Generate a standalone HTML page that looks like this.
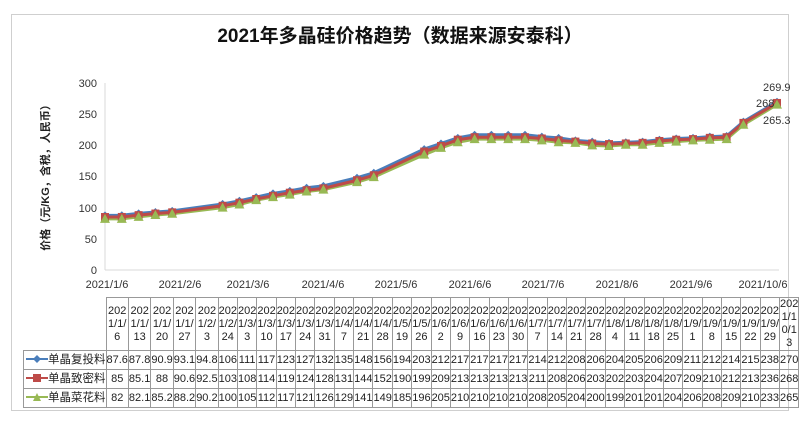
<!DOCTYPE html>
<html><head><meta charset="utf-8">
<style>
body{margin:0;width:800px;height:421px;background:#fff;position:relative;overflow:hidden;font-family:"Liberation Sans","Noto Sans CJK SC",sans-serif;}
.frame{position:absolute;left:11px;top:14px;width:778px;height:397px;border:1px solid #cfcfcf;box-sizing:border-box;}
.title{position:absolute;left:0;width:800px;top:21px;text-align:center;font-size:19px;font-weight:bold;color:#111;}
table{position:absolute;left:23px;top:297px;border-collapse:collapse;table-layout:fixed;font-size:11px;color:#222;}
td{border:1px solid #999;text-align:center;padding:0;line-height:13px;white-space:nowrap;overflow:hidden;}
tr.h td{height:49px;}
tr.d td{height:18px;}
td.leg{text-align:left;padding-left:2px;font-size:11.5px;}
</style></head><body>
<div class="frame"></div>
<div class="title">2021年多晶硅价格趋势（数据来源安泰科）</div>
<svg width="800" height="421" style="position:absolute;left:0;top:0">
<g font-size="11" fill="#333" text-anchor="end">
<text x="97" y="87">300</text><text x="97" y="118">250</text><text x="97" y="149">200</text><text x="97" y="180">150</text>
<text x="97" y="212">100</text><text x="97" y="243">50</text><text x="97" y="274">0</text>
</g>
<line x1="105" y1="83" x2="105" y2="270" stroke="#d9d9d9"/>
<line x1="105" y1="270" x2="779" y2="270" stroke="#d9d9d9"/>
<text transform="translate(49,175) rotate(-90)" text-anchor="middle" font-size="11" font-weight="bold" fill="#222">价格（元/KG，含税，人民币）</text>
<g font-size="11" fill="#333" text-anchor="middle">
<text x="107" y="288">2021/1/6</text><text x="180" y="288">2021/2/6</text><text x="248" y="288">2021/3/6</text>
<text x="323" y="288">2021/4/6</text><text x="396" y="288">2021/5/6</text><text x="470" y="288">2021/6/6</text>
<text x="543" y="288">2021/7/6</text><text x="617" y="288">2021/8/6</text><text x="691" y="288">2021/9/6</text>
<text x="763" y="288">2021/10/6</text>
</g>
<g id="plot"></g>
<g font-size="11" fill="#333">
<text x="763" y="91">269.9</text><text x="756" y="107">268</text><text x="763" y="124">265.3</text>
</g>
</svg>
<table>
<colgroup><col style="width:82px">
<col span="37" style="width:18.2px"></colgroup>
<tr class="h"><td style="border:none;border-bottom:1px solid #999"></td>
<td>202<br>1/1/<br>6</td><td>202<br>1/1/<br>13</td><td>202<br>1/1/<br>20</td><td>202<br>1/1/<br>27</td><td>202<br>1/2/<br>3</td><td>202<br>1/2/<br>24</td><td>202<br>1/3/<br>3</td><td>202<br>1/3/<br>10</td><td>202<br>1/3/<br>17</td><td>202<br>1/3/<br>24</td><td>202<br>1/3/<br>31</td><td>202<br>1/4/<br>7</td><td>202<br>1/4/<br>21</td><td>202<br>1/4/<br>28</td><td>202<br>1/5/<br>19</td><td>202<br>1/5/<br>26</td><td>202<br>1/6/<br>2</td><td>202<br>1/6/<br>9</td><td>202<br>1/6/<br>16</td><td>202<br>1/6/<br>23</td><td>202<br>1/6/<br>30</td><td>202<br>1/7/<br>7</td><td>202<br>1/7/<br>14</td><td>202<br>1/7/<br>21</td><td>202<br>1/7/<br>28</td><td>202<br>1/8/<br>4</td><td>202<br>1/8/<br>11</td><td>202<br>1/8/<br>18</td><td>202<br>1/8/<br>25</td><td>202<br>1/9/<br>1</td><td>202<br>1/9/<br>8</td><td>202<br>1/9/<br>15</td><td>202<br>1/9/<br>22</td><td>202<br>1/9/<br>29</td><td>202<br>1/1<br>0/1<br>3</td></tr>
<tr class="d"><td class="leg"><svg width="22" height="8" style="vertical-align:middle"><line x1="0" y1="4" x2="22" y2="4" stroke="#4a7ebb" stroke-width="2"/><path d="M11 0L15 4L11 8L7 4Z" fill="#4a7ebb"/></svg>单晶复投料</td>
<td>87.6</td><td>87.8</td><td>90.9</td><td>93.1</td><td>94.8</td><td>106</td><td>111</td><td>117</td><td>123</td><td>127</td><td>132</td><td>135</td><td>148</td><td>156</td><td>194</td><td>203</td><td>212</td><td>217</td><td>217</td><td>217</td><td>217</td><td>214</td><td>212</td><td>208</td><td>206</td><td>204</td><td>205</td><td>206</td><td>209</td><td>211</td><td>212</td><td>214</td><td>215</td><td>238</td><td>270</td></tr>
<tr class="d"><td class="leg"><svg width="22" height="8" style="vertical-align:middle"><line x1="0" y1="4" x2="22" y2="4" stroke="#be4b48" stroke-width="2"/><rect x="7" y="0" width="8" height="8" fill="#be4b48"/></svg>单晶致密料</td>
<td>85</td><td>85.1</td><td>88</td><td>90.6</td><td>92.5</td><td>103</td><td>108</td><td>114</td><td>119</td><td>124</td><td>128</td><td>131</td><td>144</td><td>152</td><td>190</td><td>199</td><td>209</td><td>213</td><td>213</td><td>213</td><td>213</td><td>211</td><td>208</td><td>206</td><td>203</td><td>202</td><td>203</td><td>204</td><td>207</td><td>209</td><td>210</td><td>212</td><td>213</td><td>236</td><td>268</td></tr>
<tr class="d"><td class="leg"><svg width="22" height="8" style="vertical-align:middle"><line x1="0" y1="4" x2="22" y2="4" stroke="#98b954" stroke-width="2"/><path d="M11 0L15 8L7 8Z" fill="#98b954"/></svg>单晶菜花料</td>
<td>82</td><td>82.1</td><td>85.2</td><td>88.2</td><td>90.2</td><td>100</td><td>105</td><td>112</td><td>117</td><td>121</td><td>126</td><td>129</td><td>141</td><td>149</td><td>185</td><td>196</td><td>205</td><td>210</td><td>210</td><td>210</td><td>210</td><td>208</td><td>205</td><td>204</td><td>200</td><td>199</td><td>201</td><td>201</td><td>204</td><td>206</td><td>208</td><td>209</td><td>210</td><td>233</td><td>265</td></tr>
</table>
<script>
var days=[0,7,14,21,28,49,56,63,70,77,84,91,105,112,133,140,147,154,161,168,175,182,189,196,203,210,217,224,231,238,245,252,259,266,280];
var B=[87.6,87.8,90.9,93.1,94.8,106,111,117,123,127,132,135,148,156,194,203,212,217,217,217,217,214,212,208,206,204,205,206,209,211,212,214,215,238,269.9];
var R=[85,85.1,88,90.6,92.5,103,108,114,119,124,128,131,144,152,190,199,209,213,213,213,213,211,208,206,203,202,203,204,207,209,210,212,213,236,268];
var G=[82,82.1,85.2,88.2,90.2,100,105,112,117,121,126,129,141,149,185,196,205,210,210,210,210,208,205,204,200,199,201,201,204,206,208,209,210,233,265.3];
function X(d){return 105+d*2.4;}function Y(v){return 270-v*187/300;}
var ns="http://www.w3.org/2000/svg",g=document.getElementById("plot");
function line(a,c){var p=document.createElementNS(ns,"polyline");p.setAttribute("points",days.map(function(d,i){return X(d)+","+Y(a[i]);}).join(" "));p.setAttribute("fill","none");p.setAttribute("stroke",c);p.setAttribute("stroke-width","3");g.appendChild(p);}
function mk(a,c,t){days.forEach(function(d,i){var x=X(d),y=Y(a[i]),e;e=document.createElementNS(ns,"path");var s;
if(t==0)s="M"+x+" "+(y-4)+"L"+(x+4)+" "+y+"L"+x+" "+(y+4)+"L"+(x-4)+" "+y+"Z";
else if(t==1)s="M"+(x-4)+" "+(y-4)+"h8v8h-8Z";
else s="M"+x+" "+(y-5)+"L"+(x+5)+" "+(y+4)+"L"+(x-5)+" "+(y+4)+"Z";
e.setAttribute("d",s);e.setAttribute("fill",c);g.appendChild(e);});}
line(B,"#4a7ebb");mk(B,"#4a7ebb",0);
line(G,"#98b954");line(R,"#be4b48");mk(R,"#be4b48",1);mk(G,"#98b954",2);
</script>
</body></html>
